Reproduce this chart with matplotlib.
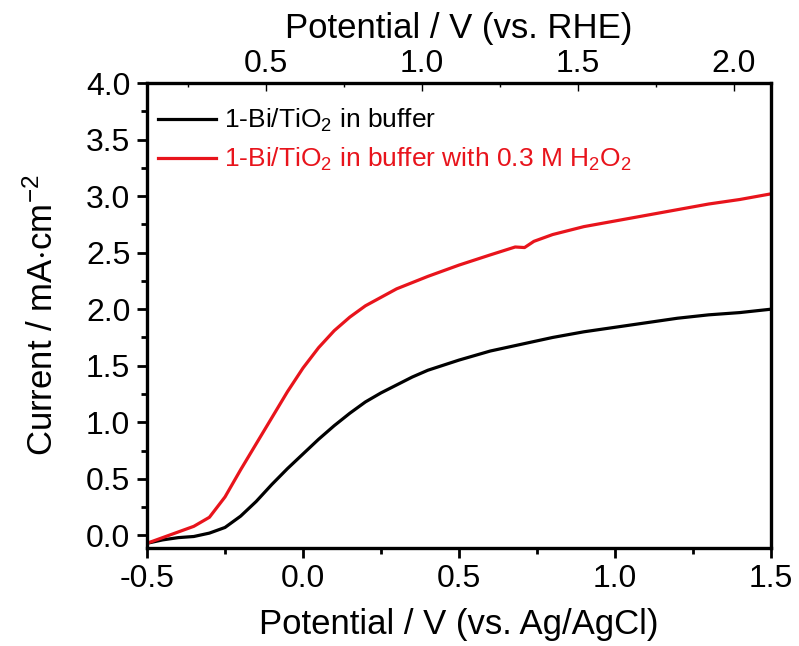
import numpy as np
import matplotlib
matplotlib.use("Agg")
import matplotlib.pyplot as plt
from matplotlib.ticker import MultipleLocator

plt.rcParams['font.family'] = ['Liberation Sans', 'DejaVu Sans']
plt.rcParams['mathtext.fontset'] = 'custom'
plt.rcParams['mathtext.rm'] = 'Liberation Sans'
plt.rcParams['mathtext.it'] = 'Liberation Sans'
plt.rcParams['axes.unicode_minus'] = False

# potential vs Ag/AgCl (V) and current density (mA/cm2)
pot_bufor = [-0.5, -0.45, -0.4, -0.35, -0.3, -0.25, -0.2, -0.15, -0.1, -0.05, 0.0,
             0.05, 0.1, 0.15, 0.2, 0.25, 0.3, 0.35, 0.4, 0.5, 0.6, 0.7, 0.8, 0.9, 1.0,
             1.1, 1.2, 1.3, 1.4, 1.5]
prad_bufor = [-0.07, -0.04, -0.02, -0.01, 0.02, 0.07, 0.17, 0.3, 0.45, 0.59, 0.72,
              0.85, 0.97, 1.08, 1.18, 1.26, 1.33, 1.40, 1.46, 1.55, 1.63, 1.69, 1.75, 1.80, 1.84,
              1.88, 1.92, 1.95, 1.97, 2.0]
pot_h2o2 = [-0.5, -0.45, -0.4, -0.35, -0.3, -0.25, -0.2, -0.15, -0.1, -0.05, 0.0,
            0.05, 0.1, 0.15, 0.2, 0.3, 0.4, 0.5, 0.6, 0.68, 0.71, 0.74, 0.8, 0.9, 1.0,
            1.1, 1.2, 1.3, 1.4, 1.5]
prad_h2o2 = [-0.07, -0.02, 0.03, 0.08, 0.16, 0.34, 0.58, 0.81, 1.04, 1.27, 1.48,
             1.66, 1.81, 1.93, 2.03, 2.18, 2.29, 2.39, 2.48, 2.55, 2.545, 2.6, 2.66, 2.73, 2.78,
             2.83, 2.88, 2.93, 2.97, 3.02]
etykiety = ['1-Bi/TiO$_\\mathregular{2}$ in buffer',
            '1-Bi/TiO$_\\mathregular{2}$ in buffer with 0.3 M H$_\\mathregular{2}$O$_\\mathregular{2}$']
przesuniecie_rhe = 0.62
czerwony = '#e8141c'

fig = plt.figure(figsize=(7.99, 6.46), dpi=100)
ax = fig.add_axes([0.184, 0.152, 0.781, 0.7195])

ax.plot(pot_bufor, prad_bufor, color='black', lw=2.3, label=etykiety[0])
ax.plot(pot_h2o2, prad_h2o2, color=czerwony, lw=2.3, label=etykiety[1])

ax.set_xlim(-0.5, 1.5)
ax.set_ylim(-0.11, 4.0)
ax.xaxis.set_major_locator(MultipleLocator(0.5))
ax.xaxis.set_minor_locator(MultipleLocator(0.25))
ax.yaxis.set_major_locator(MultipleLocator(0.5))
ax.yaxis.set_minor_locator(MultipleLocator(0.25))
ax.tick_params(which='major', direction='out', length=7, width=2, labelsize=23, pad=5)
ax.tick_params(which='minor', direction='out', length=4, width=2)
for s in ax.spines.values():
    s.set_linewidth(2.4)

ax.set_xlabel('Potential / V (vs. Ag/AgCl)', fontsize=25, labelpad=10)
ax.set_ylabel('Current / mA$\\cdot$cm$^{\\mathregular{-2}}$', fontsize=25, labelpad=19)

top = ax.secondary_xaxis('top', functions=(lambda x: x + przesuniecie_rhe,
                                            lambda x: x - przesuniecie_rhe))
top.xaxis.set_major_locator(MultipleLocator(0.5))
top.xaxis.set_minor_locator(MultipleLocator(0.25))
top.tick_params(which='major', direction='in', length=6, width=1, labelsize=23, pad=3)
top.tick_params(which='minor', direction='in', length=3, width=1)
top.set_xlabel('Potential / V (vs. RHE)', fontsize=25, labelpad=8)

leg = ax.legend(loc='upper left', bbox_to_anchor=(-0.02, 1.0), frameon=False, fontsize=19,
                handlelength=2.2, handletextpad=0.3, borderaxespad=0.5, labelspacing=0.45)
for t, c in zip(leg.get_texts(), ['black', czerwony]):
    t.set_color(c)

fig.savefig('out.png', dpi=100)
